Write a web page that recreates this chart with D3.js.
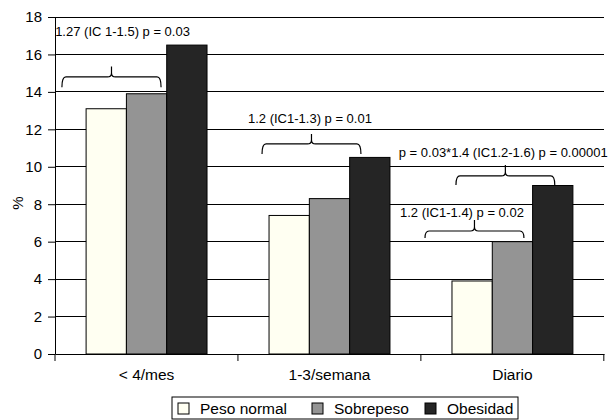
<!DOCTYPE html>
<html>
<head>
<meta charset="utf-8">
<script src="https://cdn.jsdelivr.net/npm/d3@7"></script>
<style>
  body { margin: 0; background: #fff; }
  svg { display: block; font-family: 'Liberation Sans', Arial, sans-serif; }
</style>
</head>
<body>
<div id="chart"></div>
<script>
const categories = ['< 4/mes', '1-3/semana', 'Diario'];
const series = ['Peso normal', 'Sobrepeso', 'Obesidad'];
const pesoNormal = [13.1, 7.4, 3.9];
const sobrepeso = [13.9, 8.3, 6.0];
const obesidad = [16.5, 10.5, 9.0];
const yTicks = [0, 2, 4, 6, 8, 10, 12, 14, 16, 18];

// annotation braces: category, span as fraction of the bar group, levels in %
const annotations = [
  { cat: '< 4/mes', text: '1.27 (IC 1-1.5) p = 0.03', tx: -0.256, ty: 16.97, from: -0.2, to: 0.62, low: 14.25, mid: 14.8, tip: 15.35 },
  { cat: '1-3/semana', text: '1.2 (IC1-1.3) p = 0.01', tx: -0.174, ty: 12.34, from: -0.058, to: 0.76, low: 10.68, mid: 11.22, tip: 11.75 },
  { cat: 'Diario', text: 'p = 0.03*1.4 (IC1.2-1.6) p = 0.00001', tx: -0.44, ty: 10.52, from: 0.033, to: 0.85, low: 9.03, mid: 9.51, tip: 10.1 },
  { cat: 'Diario', text: '1.2 (IC1-1.4) p = 0.02', tx: -0.43, ty: 7.32, from: -0.223, to: 0.595, low: 6.2, mid: 6.57, tip: 7.16 },
];

const values = [pesoNormal, sobrepeso, obesidad];
const colors = ['#fffff2', '#949494', '#252525'];

const size = { width: 613, height: 420 };
const margin = { top: 17, right: 9, bottom: 66, left: 55 };

const svg = d3.select('#chart').append('svg')
  .attr('width', size.width)
  .attr('height', size.height);

const x0 = d3.scaleBand()
  .domain(categories)
  .range([margin.left, size.width - margin.right])
  .paddingInner(0.339)
  .paddingOuter(0.17);

const x1 = d3.scaleBand()
  .domain(series)
  .range([0, x0.bandwidth()]);

const y = d3.scaleLinear()
  .domain([0, 18])
  .range([size.height - margin.bottom, margin.top]);

const color = d3.scaleOrdinal().domain(series).range(colors);

// gridlines
svg.append('g')
  .selectAll('line')
  .data(yTicks.slice(1))
  .join('line')
  .attr('x1', margin.left)
  .attr('x2', size.width - margin.right)
  .attr('y1', (d) => y(d))
  .attr('y2', (d) => y(d))
  .attr('stroke', '#000')
  .attr('stroke-width', 1)
  .attr('shape-rendering', 'crispEdges');

// bars
const rows = categories.map((c, i) => ({ cat: c, vals: series.map((s, j) => ({ s, v: values[j][i] })) }));

svg.append('g')
  .selectAll('g')
  .data(rows)
  .join('g')
  .attr('transform', (d) => `translate(${x0(d.cat)},0)`)
  .selectAll('rect')
  .data((d) => d.vals)
  .join('rect')
  .attr('x', (d) => x1(d.s))
  .attr('y', (d) => y(d.v))
  .attr('width', x1.bandwidth())
  .attr('height', (d) => y(0) - y(d.v))
  .attr('fill', (d) => color(d.s))
  .attr('stroke', '#000')
  .attr('stroke-width', 1);

// y axis
const yAxis = svg.append('g')
  .attr('transform', `translate(${margin.left},0)`)
  .call(d3.axisLeft(y).tickValues(yTicks).tickSize(7).tickSizeOuter(0).tickPadding(6));
yAxis.selectAll('text').attr('font-size', 15).attr('fill', '#000').attr('font-family', null);
yAxis.selectAll('line, path').attr('stroke', '#000');

svg.append('text')
  .attr('transform', `translate(23,203) rotate(-90)`)
  .attr('text-anchor', 'middle')
  .attr('font-size', 15)
  .text('%');

// x axis
const xAxis = svg.append('g')
  .attr('transform', `translate(0,${y(0)})`)
  .call(d3.axisBottom(x0).tickSize(0).tickSizeOuter(0).tickPadding(15));
xAxis.selectAll('text').attr('font-size', 15.5).attr('fill', '#000').attr('font-family', null);
xAxis.select('.domain').attr('stroke', '#000');

const bounds = d3.range(categories.length + 1).map((i) => margin.left + i * x0.step());
xAxis.selectAll('.bound')
  .data(bounds)
  .join('line')
  .attr('class', 'bound')
  .attr('x1', (d) => d)
  .attr('x2', (d) => d)
  .attr('y1', 0)
  .attr('y2', 7)
  .attr('stroke', '#000');

// annotations
const brace = (a) => {
  const bx = x0(a.cat);
  const w = x0.bandwidth();
  const xa = bx + a.from * w;
  const xb = bx + a.to * w;
  const xm = (xa + xb) / 2;
  const yl = y(a.low);
  const ym = y(a.mid);
  const yt = y(a.tip);
  const r = 4;
  return `M${xa},${yl} Q${xa},${ym} ${xa + r},${ym} L${xm - r},${ym} Q${xm},${ym} ${xm},${ym - r} L${xm},${yt}`
    + ` M${xm},${ym - r} Q${xm},${ym} ${xm + r},${ym} L${xb - r},${ym} Q${xb},${ym} ${xb},${yl}`;
};

const ann = svg.append('g').selectAll('g').data(annotations).join('g');

ann.append('path')
  .attr('d', brace)
  .attr('fill', 'none')
  .attr('stroke', '#000')
  .attr('stroke-width', 1.2);

ann.append('text')
  .attr('x', (d) => x0(d.cat) + d.tx * x0.bandwidth())
  .attr('y', (d) => y(d.ty))
  .attr('font-size', 13)
  .text((d) => d.text);

// legend
const legend = svg.append('g').attr('transform', 'translate(172,397)');
legend.append('rect')
  .attr('width', 346)
  .attr('height', 22)
  .attr('fill', '#fff')
  .attr('stroke', '#000')
  .attr('stroke-width', 1);

const legendX = [6, 140, 253];
const items = legend.selectAll('.item')
  .data(series)
  .join('g')
  .attr('class', 'item')
  .attr('transform', (d, i) => `translate(${legendX[i]},0)`);

items.append('rect')
  .attr('y', 6)
  .attr('width', 11)
  .attr('height', 11)
  .attr('fill', (d) => color(d))
  .attr('stroke', '#000');

items.append('text')
  .attr('x', 22)
  .attr('y', 17)
  .attr('font-size', 15.5)
  .text((d) => d);
</script>
</body>
</html>
